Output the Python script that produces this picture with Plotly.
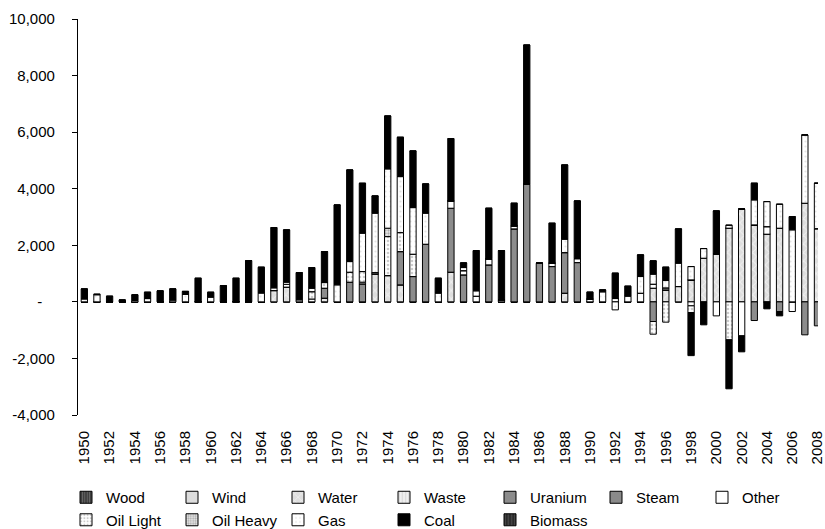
import plotly.graph_objects as go

years = list(range(1950, 2009))

# values (MW) per series, 1950..2008 (59 values each)
wood =    [0]*59
wind =    [0]*59
waste =   [0]*59
steam =   [0]*59
biomass = [0]*59
water = [0,0,0,0,0,0,0,0,0,0, 0,0,0,0,0,400,520,0,0,130,
         0,0,0,990,930,600,0,0,0,1049, 0,0,0,0,0,0,0,0,306,0,
         0,0,0,0,0,483,424,542,777,1543, 1685,2604,3275,2721,2392,2604,0,3487,2590]
uranium = [0,0,0,0,0,0,0,0,0,0, 0,0,0,0,0,0,0,0,0,353,
           0,695,636,0,0,1178,895,2038,0,2261, 954,0,1307,0,2580,4159,1366,1248,1437,1389,
           0,0,0,0,0,-695,0,0,0,0, 0,0,0,-660,0,-342,0,-1166,-848]
other = [0,0,0,0,0,0,0,0,0,0, 0,0,0,0,0,0,100,0,100,0,
         0,0,60,46,0,0,0,0,0,259, 150,200,212,70,106,0,0,118,0,141,
         95,0,118,0,306,142,70,0,-141,0, -495,0,-1201,0,268,0,-342,0,0]
oil_light = [0,0,0,0,0,0,0,0,0,0, 0,0,0,0,0,0,0,0,260,200,
             0,354,375,0,1377,671,790,0,0,0, 0,0,0,0,0,0,0,0,0,0,
             0,0,0,0,0,-448,-718,0,-236,0, 0,-1343,0,0,0,0,0,0,0]
oil_heavy = [0,0,0,0,0,0,0,0,0,0, 0,0,0,0,0,0,0,0,0,0,
             0,0,0,0,297,0,0,0,0,0, 0,0,0,0,0,0,0,0,0,0,
             0,0,0,0,0,0,0,0,0,0, 0,0,0,0,0,0,0,0,0]
gas = [100,250,0,0,50,115,0,60,260,0, 165,0,0,0,310,95,75,70,120,0,
       600,375,1356,2098,2096,1979,1647,1096,307,0, 108,190,0,0,0,0,0,0,471,0,
       0,353,-283,200,589,353,260,824,471,341, 0,106,0,883,885,848,2545,2414,1604]
coal = [360,20,200,70,200,225,390,400,110,835, 175,575,835,1460,915,2130,1850,966,733,1095,
        2827,3240,1766,611,1872,1391,2004,1036,528,2202, 166,1423,1791,1743,801,4922,0,1414,2627,2039,
        248,71,895,354,766,471,471,1214,-1524,-812, 1531,-1731,-566,590,-247,-153,470,0,0]

series = [
    ("Wood", wood, dict(shape="|", bgcolor="#3a3a3a", fgcolor="#9a9a9a", size=3, solidity=0.4)),
    ("Wind", wind, dict(shape="", bgcolor="#dcdcdc", fgcolor="#dcdcdc")),
    ("Water", water, dict(shape="x", bgcolor="#dedede", fgcolor="#ffffff", size=6, solidity=0.3)),
    ("Waste", waste, dict(shape="|", bgcolor="#f0f0f0", fgcolor="#b0b0b0", size=4, solidity=0.3)),
    ("Uranium", uranium, dict(shape="", bgcolor="#8c8c8c", fgcolor="#8c8c8c")),
    ("Steam", steam, dict(shape="", bgcolor="#8a8a8a", fgcolor="#8a8a8a")),
    ("Other", other, dict(shape="", bgcolor="#ffffff", fgcolor="#ffffff")),
    ("Oil Light", oil_light, dict(shape=".", bgcolor="#ffffff", fgcolor="#9a9a9a", size=4, solidity=0.35)),
    ("Oil Heavy", oil_heavy, dict(shape=".", bgcolor="#e8e8e8", fgcolor="#6e6e6e", size=3, solidity=0.45)),
    ("Gas", gas, dict(shape=".", bgcolor="#ffffff", fgcolor="#c8c8c8", size=5, solidity=0.15)),
    ("Coal", coal, dict(shape="", bgcolor="#000000", fgcolor="#000000")),
    ("Biomass", biomass, dict(shape="|", bgcolor="#2a2a2a", fgcolor="#6a6a6a", size=4, solidity=0.4)),
]

fig = go.Figure()
for name, vals, pat in series:
    pat = dict(pat)
    fig.add_trace(go.Bar(
        x=years, y=vals, name=name,
        marker=dict(color=pat["bgcolor"], pattern=dict(fillmode="overlay", **pat),
                    line=dict(color="#000000", width=1)),
    ))

FONT = "Liberation Sans, Arial, sans-serif"
FS = 15
ytickvals = [-4000, -2000, 0, 2000, 4000, 6000, 8000, 10000]
yticktext = ["-4,000\u00a0", "-2,000\u00a0", "-\u00a0\u00a0\u00a0\u00a0", "2,000\u00a0", "4,000\u00a0",
             "6,000\u00a0", "8,000\u00a0", "10,000\u00a0"]
xtickvals = years[::2]
xticktext = [str(y) for y in xtickvals]
xrange_ = [1949.5, 2008.04]

fig.update_layout(
    width=825, height=529,
    margin=dict(l=78, r=0, t=19, b=114, pad=0),
    barmode="relative", bargap=0.5,
    plot_bgcolor="white", paper_bgcolor="white",
    font=dict(family=FONT, size=FS, color="#000000"),
    showlegend=True,
    legend=dict(orientation="h", xref="container", yref="container",
                x=0.08, y=0.0907, xanchor="left", yanchor="top",
                entrywidth=61, entrywidthmode="pixels",
                font=dict(family=FONT, size=FS), traceorder="normal",
                itemwidth=30, tracegroupgap=0),
    xaxis=dict(range=xrange_, tickmode="array", tickvals=xtickvals, ticktext=xticktext,
               tickangle=-90, showline=False, ticks="", showgrid=False, zeroline=False,
               tickfont=dict(family=FONT, size=FS), ticklabelstandoff=12,
               ticklabeloverflow="allow"),
    xaxis2=dict(range=xrange_, overlaying="x", anchor="free", position=4000/14000,
                side="bottom", showline=True, linecolor="#000000", linewidth=1,
                ticks="outside", ticklen=5, tickcolor="#000000", tickwidth=1,
                tickmode="array", tickvals=[y - 0.5 for y in years], showticklabels=False,
                showgrid=False, zeroline=False),
    yaxis=dict(range=[-4000, 10000], tickmode="array", tickvals=ytickvals, ticktext=yticktext,
               showline=True, linecolor="#000000", linewidth=1, ticks="outside", ticklen=5,
               tickcolor="#000000", showgrid=False, zeroline=False,
               tickfont=dict(family=FONT, size=FS), ticklabelstandoff=10),
)

fig.write_html("out.html")
